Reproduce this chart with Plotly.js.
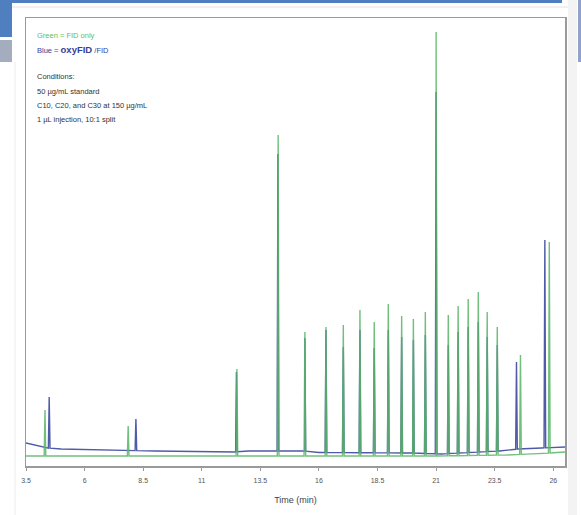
<!DOCTYPE html>
<html>
<head>
<meta charset="utf-8">
<script src="https://cdn.plot.ly/plotly-3.0.1.min.js"></script>
<style>html,body{margin:0;padding:0;background:#fff;}#chart{width:581px;height:515px;}</style>
</head>
<body>
<div id="chart"></div>
<script>
// Tick values / labels (retention time, min)
const tickVals = [3.5, 6, 8.5, 11, 13.5, 16, 18.5, 21, 23.5, 26];
const tickText = ["3.5", "6", "8.5", "11", "13.5", "16", "18.5", "21", "23.5", "26"];

// Peak retention times and heights (arbitrary detector units)
const greenPeakTimes   = [4.31, 7.86, 12.50, 14.26, 15.40, 16.30, 17.04, 17.75, 18.36, 18.96, 19.53, 20.03, 20.54, 21.00, 21.52, 21.94, 22.37, 22.80, 23.18, 23.61, 24.60, 25.83];
const greenPeakHeights = [56, 40, 97, 331, 134, 139, 141, 156, 144, 162, 150, 147, 154, 434, 151, 160, 167, 174, 154, 139, 111, 224];
const bluePeakTimes    = [4.49, 8.19, 12.48, 14.25, 15.40, 16.30, 17.04, 17.75, 18.36, 18.96, 19.53, 20.03, 20.54, 21.00, 21.52, 21.94, 22.37, 22.80, 23.18, 23.61, 24.43, 25.64];
const bluePeakHeights  = [69, 47, 94, 312, 128, 136, 119, 136, 118, 136, 129, 126, 131, 374, 121, 134, 139, 144, 129, 121, 104, 226];

// Baseline anchor points
const greenBaseTimes  = [3.5, 21.0, 24.0, 25.9, 26.5];
const greenBaseValues = [10, 10, 11, 13, 14];
const blueBaseTimes   = [3.5, 4.4, 5.0, 7.0, 9.0, 11.0, 12.4, 13.0, 15.4, 16.0, 20.0, 21.2, 22.0, 23.7, 24.5, 25.5, 26.5];
const blueBaseValues  = [23, 18, 17, 16, 15, 14, 14, 15, 15, 13.5, 13, 12, 13, 15, 17, 18, 19];

function baseAt(ts, vs, t) {
  for (let i = 0; i < ts.length - 1; i++) {
    if (t >= ts[i] && t <= ts[i + 1]) {
      const f = (t - ts[i]) / (ts[i + 1] - ts[i]);
      return vs[i] + f * (vs[i + 1] - vs[i]);
    }
  }
  return vs[vs.length - 1];
}

function buildTrace(bt, bv, pt, ph) {
  const pts = [];
  for (let i = 0; i < bt.length; i++) pts.push([bt[i], bv[i]]);
  const hw = 0.035;
  for (let i = 0; i < pt.length; i++) {
    const b1 = baseAt(bt, bv, pt[i] - hw), b2 = baseAt(bt, bv, pt[i] + hw);
    pts.push([pt[i] - hw, b1]);
    pts.push([pt[i], ph[i]]);
    pts.push([pt[i] + hw, b2]);
  }
  pts.sort((a, b) => a[0] - b[0]);
  return {x: pts.map(p => p[0]), y: pts.map(p => p[1])};
}

const blue = buildTrace(blueBaseTimes, blueBaseValues, bluePeakTimes, bluePeakHeights);
const green = buildTrace(greenBaseTimes, greenBaseValues, greenPeakTimes, greenPeakHeights);

const L = 26, R = 565, T = 18, B = 466;
const W = R - L, H = B - T;
const px = x => (x - L) / W;
const py = y => (B - y) / H;

const data = [
  {x: blue.x, y: blue.y, type: 'scatter', mode: 'lines', line: {color: '#4f5aa8', width: 1.4}, hoverinfo: 'skip', name: 'oxyFID/FID'},
  {x: green.x, y: green.y, type: 'scatter', mode: 'lines', line: {color: '#58b466', width: 1.4}, opacity: 0.85, hoverinfo: 'skip', name: 'FID only'}
];

const fam = 'Liberation Sans Narrow, Liberation Sans, sans-serif';
const txtFont = {family: fam, size: 7.5, color: '#333'};
function ann(text, x, y, font) {
  return {text: text, xref: 'paper', yref: 'paper', x: px(x), y: py(y), xanchor: 'left', yanchor: 'middle', showarrow: false, font: font || txtFont};
}

const layout = {
  width: 581, height: 515,
  margin: {l: L, r: 581 - R, t: T, b: 515 - B},
  paper_bgcolor: '#fff', plot_bgcolor: '#fff',
  showlegend: false,
  xaxis: {
    range: [3.5, 26.5], tickvals: tickVals, ticktext: tickText,
    ticks: 'outside', ticklen: 3, tickcolor: '#999', tickwidth: 1,
    ticklabelstandoff: 4,
    showgrid: false, zeroline: false,
    showline: true, linecolor: '#9a9a9a', linewidth: 1.5, mirror: true,
    tickfont: {family: fam, size: 7, color: '#555'},
    title: {text: 'Time (min)', font: {family: fam, size: 9, color: '#444'}, standoff: 14}
  },
  yaxis: {
    range: [0, 448], showticklabels: false, ticks: '', showgrid: false, zeroline: false,
    showline: true, linecolor: '#9a9a9a', linewidth: 1.5, mirror: true
  },
  annotations: [
    ann('Green = FID only', 35, 36, {family: fam, size: 7.5, color: '#5cbf5c'}),
    ann('<span style="font-size:7.5px">Blue = </span><b>oxyFID</b><span style="font-size:7.5px"> /FID</span>', 35, 50, {family: fam, size: 9.5, color: '#34409a'}),
    ann('Conditions:', 35, 76),
    ann('50 µg/mL standard', 35, 91),
    ann('C10, C20, and C30 at 150 µg/mL', 35, 105),
    ann('1 µL injection, 10:1 split', 35, 119)
  ],
  shapes: [
    {type: 'rect', xref: 'paper', yref: 'paper', x0: px(0), x1: px(562), y0: py(0), y1: py(3), fillcolor: '#4f7fbf', line: {width: 0}, layer: 'above'},
    {type: 'rect', xref: 'paper', yref: 'paper', x0: px(0), x1: px(12), y0: py(0), y1: py(37), fillcolor: '#4f7fbf', line: {width: 0}, layer: 'above'},
    {type: 'rect', xref: 'paper', yref: 'paper', x0: px(0), x1: px(12), y0: py(40), y1: py(62), fillcolor: '#a3adbd', line: {width: 0}, layer: 'above'},
    {type: 'line', xref: 'paper', yref: 'paper', x0: px(12), x1: px(568), y0: py(7), y1: py(7), line: {color: '#e2e2e2', width: 1}},
    {type: 'rect', xref: 'paper', yref: 'paper', x0: px(568), x1: px(577), y0: py(0), y1: py(515), fillcolor: '#f3f3f3', line: {width: 0}},
    {type: 'rect', xref: 'paper', yref: 'paper', x0: px(578), x1: px(581), y0: py(0), y1: py(62), fillcolor: '#8fa4c8', line: {width: 0}},
    {type: 'line', xref: 'paper', yref: 'paper', x0: px(15), x1: px(15), y0: py(62), y1: py(515), line: {color: '#ececec', width: 1}}
  ]
};

Plotly.newPlot('chart', data, layout, {staticPlot: true, displayModeBar: false});
</script>
</body>
</html>
